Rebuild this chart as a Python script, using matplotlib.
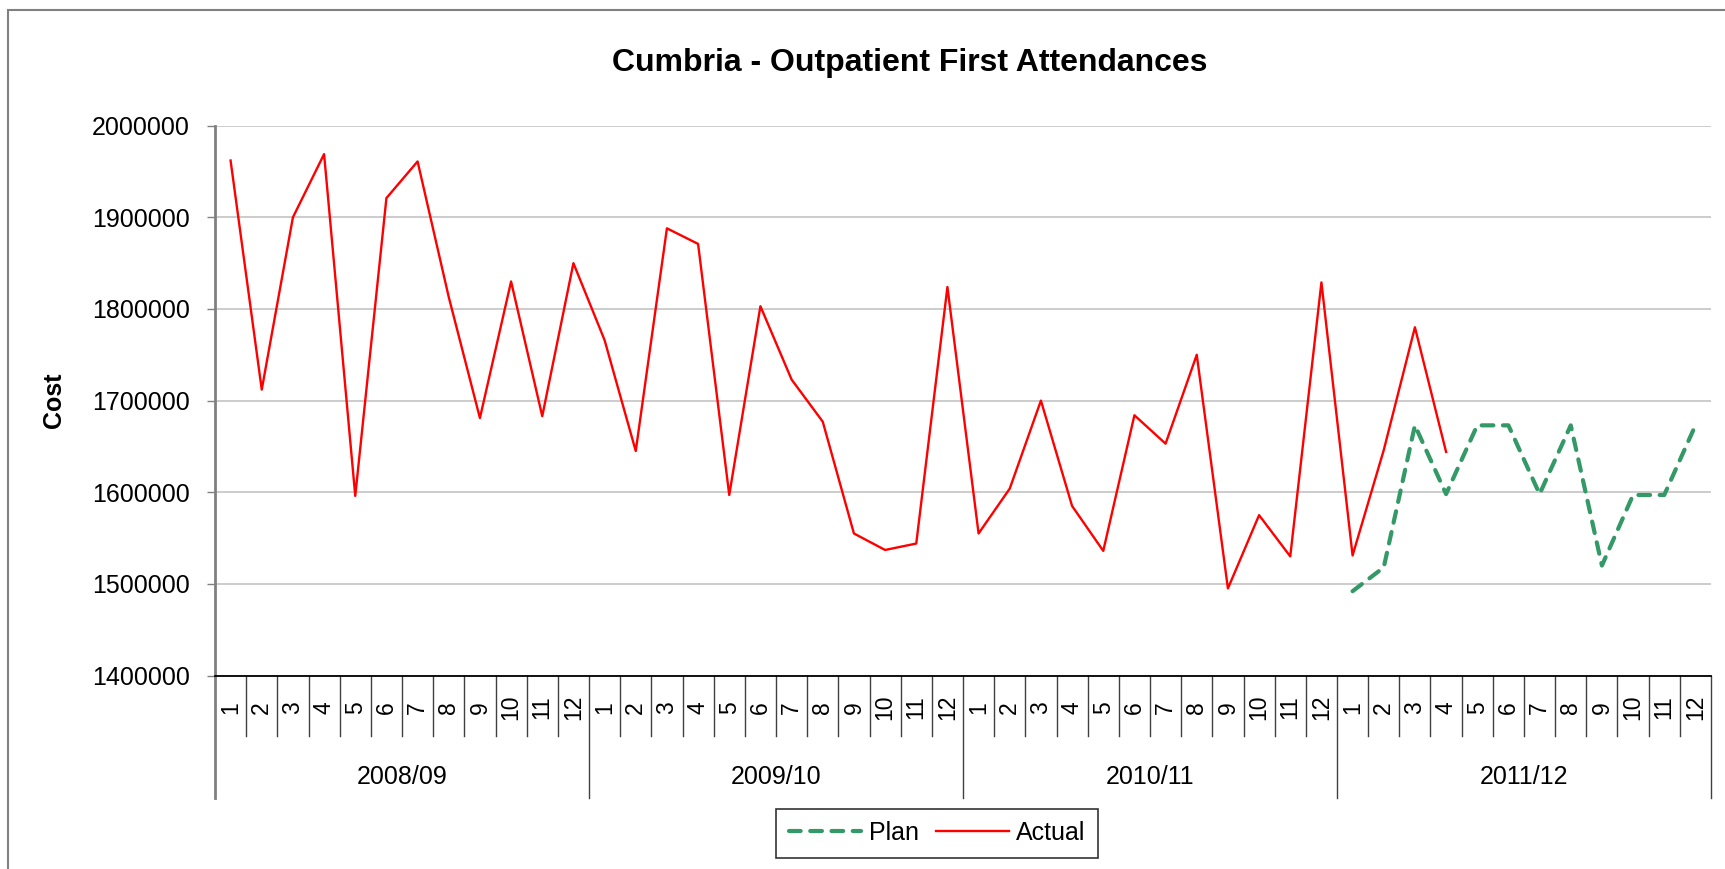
import matplotlib.pyplot as plt
import matplotlib.transforms as mtransforms
from matplotlib.ticker import FormatStrFormatter
from matplotlib.patches import Rectangle
import numpy

plt.rcParams['font.family'] = ['Liberation Sans', 'DejaVu Sans']

title = "Cumbria - Outpatient First Attendances"
years = ["2008/09", "2009/10", "2010/11", "2011/12"]
months = [str(m) for m in range(1, 13)]

actual = [1962000, 1712000, 1900000, 1969000, 1596000, 1921000, 1961000, 1813000, 1681000, 1830000, 1683000, 1850000,
          1766000, 1645000, 1888000, 1871000, 1597000, 1803000, 1723000, 1677000, 1555000, 1537000, 1544000, 1824000,
          1555000, 1604000, 1700000, 1585000, 1536000, 1684000, 1653000, 1750000, 1495000, 1575000, 1530000, 1829000,
          1531000, 1646000, 1780000, 1644000]

# plan only covers the last year
plan = [1492000, 1518000, 1673000, 1598000, 1673000, 1673000, 1598000, 1673000, 1520000, 1597000, 1597000, 1673000]

ncat = len(years) * len(months)
xAll = numpy.arange(ncat)
xActual = xAll[:len(actual)]
xPlan = xAll[ncat - len(plan):]

fig = plt.figure(figsize=(17.25, 8.69), dpi=100)
ax = fig.add_axes([215/1725, 1-675.5/869, (1711-215)/1725, (675.5-125.7)/869])

# outer chart frame (only left/top visible)
fig.patches.append(Rectangle((8/1725, -0.1), 1.2, 1.1 - 10/869, transform=fig.transFigure,
                             fill=False, edgecolor='#808080', linewidth=1.5))

ax.grid(axis='y', color='#c8c8c8', linewidth=1.3)
ax.set_axisbelow(True)

plan_line, = ax.plot(xPlan, plan, color='#339966', linewidth=3.0, linestyle=(0, (2.8, 2.3)),
                     dash_capstyle='round', label='Plan')
actual_line, = ax.plot(xActual, actual, color='#ff0000', linewidth=1.7, label='Actual')

ax.set_xlim(-0.5, ncat - 0.5)
ax.set_ylim(1400000, 2000000)
ax.set_yticks(numpy.arange(1400000, 2000001, 100000))
ax.yaxis.set_major_formatter(FormatStrFormatter('%d'))
ax.tick_params(axis='y', labelsize=18, length=6, width=1, color='#808080', pad=12)

ax.set_xticks(xAll)
ax.set_xticklabels(months * len(years), rotation=90, fontsize=16.5)
ax.tick_params(axis='x', length=0, pad=23)
for lab in ax.get_xticklabels():
    lab.set_va('center')

for s in ['top', 'right']:
    ax.spines[s].set_visible(False)
ax.spines['left'].set_color('#808080')
ax.spines['left'].set_linewidth(2)
ax.spines['bottom'].set_color('black')
ax.spines['bottom'].set_linewidth(1.3)

trans = mtransforms.blended_transform_factory(ax.transData, ax.transAxes)
axh = 675.5 - 125.7
monthDrop = -60 / axh
yearDrop = -122 / axh
for k in range(1, ncat + 1):
    b = k - 0.5
    if k % 12 == 0:
        ax.plot([b, b], [0, yearDrop], transform=trans, color='#404040', linewidth=1, clip_on=False)
    else:
        ax.plot([b, b], [0, monthDrop], transform=trans, color='#404040', linewidth=1, clip_on=False)
ax.plot([-0.5, -0.5], [0, yearDrop], transform=trans, color='#808080', linewidth=2, clip_on=False)

for i, yr in enumerate(years):
    ax.text(i * 12 + 5.5, -101 / axh, yr, transform=trans, ha='center', va='center', fontsize=18)

ax.set_ylabel("Cost", fontsize=18, fontweight='bold')
ax.yaxis.set_label_coords((66 - 215) / 1496, 0.5)

fig.text(910/1725, 1-63/869, title, ha='center', va='center', fontsize=23, fontweight='bold')

leg = fig.legend([plan_line, actual_line], ['Plan', 'Actual'], loc='center',
                 bbox_to_anchor=(937/1725, 1-833/869), ncol=2, fontsize=18, frameon=True,
                 fancybox=False, edgecolor='black', handlelength=2.9, handletextpad=0.3,
                 columnspacing=0.7, borderpad=0.5)
leg.get_frame().set_linewidth(1.2)

plt.savefig("out.png", dpi=100)
